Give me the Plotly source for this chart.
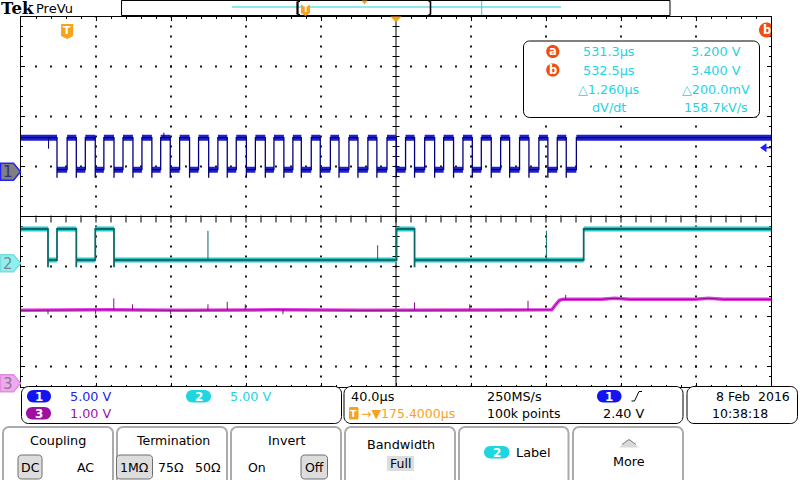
import numpy as np
import plotly.graph_objects as go

W, H = 800, 480
FONT = "DejaVu Sans"

# ------------------------------------------------------------------ data
time_per_div_us = 40.0
center_time_us = 175.4            # horizontal position (trigger -> centre)
ch1_v_per_div = 5.0
ch2_v_per_div = 5.0
ch3_v_per_div = 1.0
trigger_level_v = 2.40

# channel 1 (blue): square-wave edges, µs relative to trigger
ch1_fall_us = [-5.4, 4.9, 15.0, 25.0, 35.1, 45.2, 55.0, 65.3, 75.5, 85.4, 95.6, 105.7, 115.6, 124.9,
               135.0, 145.0, 155.1, 165.2, 175.6, 185.3, 196.0, 206.1, 216.1, 226.2, 236.0, 246.3,
               256.4, 266.2]
ch1_rise_us = [0.0, 9.7, 19.6, 29.8, 39.9, 49.9, 60.0, 70.1, 80.4, 90.2, 100.4, 110.3, 120.4, 130.2,
               140.4, 150.3, 160.4, 170.6, 180.5, 190.7, 200.8, 211.1, 220.9, 231.2, 241.3, 251.6,
               261.4, 271.6]
ch1_levels_v = [3.4, 0.2, -0.6]          # high, low, undershoot
ch1_spike_us = [-9.9, 51.6]
ch1_spike_v = [2.3, 3.9]

# channel 2 (cyan): toggling edges, starts high
ch2_edge_us = [-10.2, -5.4, 4.9, 15.0, 25.0, 175.7, 185.3, 275.5]
ch2_levels_v = [3.43, 0.33, -0.4]
ch2_spike_us = [75.1, 165.6, 255.6]
ch2_spike_v = [3.25, 1.8, 3.25]

# channel 3 (magenta): slow analogue level
ch3_t_us = [-24.6, 20.0, 60.0, 110.0, 160.0, 210.0, 258.5, 260.5, 262.5, 264.5, 285.0, 292.0,
            300.0, 335.0, 342.0, 350.0, 375.4]
ch3_v = [1.46, 1.47, 1.46, 1.47, 1.46, 1.47, 1.47, 1.57, 1.66, 1.68, 1.68, 1.70, 1.68, 1.68,
         1.70, 1.68, 1.68]
ch3_spike_us = [-10.2, 15.2, 24.9, 34.9, 55.2, 75.1, 85.4, 95.0, 115.1, 185.3, 214.7, 245.8, 265.9]
ch3_spike_v = [1.38, 1.38, 1.70, 1.58, 1.38, 1.58, 1.63, 1.58, 1.38, 1.62, 1.58, 1.65, 1.77]

meas_time = ["531.3µs", "532.5µs", "△1.260µs", "dV/dt"]
meas_val = ["3.200 V", "3.400 V", "△200.0mV", "158.7kV/s"]

# ------------------------------------------------------------------ screen geometry
GX0, GX1 = 21, 771
GY_TOP, GY_MID, GY_BOT = 16.5, 216.5, 386.5
VDIV = 50.0
ch1_gnd_px, ch2_gnd_px, ch3_gnd_px = 171.7, 263.3, 383.3

xmin = center_time_us - 5 * time_per_div_us
xmax = center_time_us + 5 * time_per_div_us

BLUE_BAND, BLUE_CORE = "#2020cc", "#00007e"
CYAN_BAND, CYAN_CORE = "#22c9c9", "#0a6a6a"
MAG_BAND, MAG_CORE = "#e23ce2", "#8a0a8a"
BLUE_TXT = "#2323f0"
CYAN = "#1fd3df"
PURPLE = "#a010a8"
ORANGE = "#f7a21b"
REDOR = "#f24b13"


def X(px):
    return px / W


def Y(py):
    return 1 - py / H


def vrange(gnd, vpd, top, bot):
    return [(gnd - bot) / VDIV * vpd, (gnd - top) / VDIV * vpd]


def fmt(pts):
    return " ".join(f"{X(a):.5f},{Y(b):.5f}" for a, b in pts)


def rr_path(x0, y0, x1, y1, r):
    k = 0.5523 * r
    seq = [("M", [(x0 + r, y0)]), ("L", [(x1 - r, y0)]),
           ("C", [(x1 - r + k, y0), (x1, y0 + r - k), (x1, y0 + r)]),
           ("L", [(x1, y1 - r)]),
           ("C", [(x1, y1 - r + k), (x1 - r + k, y1), (x1 - r, y1)]),
           ("L", [(x0 + r, y1)]),
           ("C", [(x0 + r - k, y1), (x0, y1 - r + k), (x0, y1 - r)]),
           ("L", [(x0, y0 + r)]),
           ("C", [(x0, y0 + r - k), (x0 + r - k, y0), (x0 + r, y0)])]
    return " ".join(c + fmt(p) for c, p in seq) + " Z"


def poly_path(pts, close=True):
    s = "M" + fmt([pts[0]]) + "".join(" L" + fmt([p]) for p in pts[1:])
    return s + (" Z" if close else "")


shapes = []
anns = []


def add_path(d, fill=None, line="black", lw=1.0, layer="above"):
    shapes.append(dict(type="path", xref="paper", yref="paper", path=d,
                       fillcolor=fill if fill else "rgba(0,0,0,0)",
                       line=dict(color=line if line else "rgba(0,0,0,0)", width=lw if line else 0),
                       layer=layer))


def add_line(x0, y0, x1, y1, color="black", lw=1.0, layer="above"):
    shapes.append(dict(type="line", xref="paper", yref="paper", x0=X(x0), y0=Y(y0), x1=X(x1), y1=Y(y1),
                       line=dict(color=color, width=lw), layer=layer))


def ann(x, y, text, size=12.5, color="black", xanchor="center", family=FONT):
    anns.append(dict(x=X(x), y=Y(y), xref="paper", yref="paper", text=text, showarrow=False,
                     xanchor=xanchor, yanchor="middle", font=dict(family=family, size=size, color=color)))


def pill(x0, y0, x1, y1, color, label):
    add_path(rr_path(x0, y0, x1, y1, (y1 - y0) / 2), fill=color, line=None)
    ann((x0 + x1) / 2, (y0 + y1) / 2 + 0.3, f"<b>{label}</b>", 12, "white")


def tshield(cx, y0, y1, half):
    pts = [(cx - half, y0), (cx + half, y0), (cx + half, y1 - 3), (cx, y1), (cx - half, y1 - 3)]
    add_path(poly_path(pts), fill=ORANGE, line=None)


def circle_clip(cx, cy, r, xmax_px, color, label):
    ang = np.linspace(0, 2 * np.pi, 40)
    pts = [(min(cx + r * np.cos(a), xmax_px), cy + r * np.sin(a)) for a in ang]
    add_path(poly_path(pts), fill=color, line=None)
    ann(min(cx, xmax_px - 4), cy, f"<b>{label}</b>", 11.5, "white")


# ------------------------------------------------------------------ waveform builders
def band(segs):
    bx, by = [], []
    for a, b, lev in segs:
        bx += [a, b, None]
        by += [lev, lev, None]
    return bx, by


hi, lo, us = ch1_levels_v
c1t, c1v, segs1 = [xmin], [hi], []
prev = xmin
for f, r in zip(ch1_fall_us, ch1_rise_us):
    c1t += [f, f, f, r, r]
    c1v += [hi, us, lo, lo, hi]
    segs1 += [(prev, f, hi), (f, r, lo)]
    prev = r
c1t.append(xmax)
c1v.append(hi)
segs1.append((prev, xmax, hi))

hi2, lo2, us2 = ch2_levels_v
c2t, c2v, segs2 = [xmin], [hi2], []
state_high = True
prev = xmin
for e in ch2_edge_us:
    if state_high:
        c2t += [e, e, e]
        c2v += [hi2, us2, lo2]
        segs2.append((prev, e, hi2))
    else:
        c2t += [e, e]
        c2v += [lo2, hi2]
        segs2.append((prev, e, lo2))
    state_high = not state_high
    prev = e
c2t.append(xmax)
c2v.append(hi2 if state_high else lo2)
segs2.append((prev, xmax, hi2 if state_high else lo2))


def spikes(ts, peaks, base_fn):
    sx, sy = [], []
    for t, p in zip(ts, peaks):
        sx += [t, t, None]
        sy += [base_fn(t), p, None]
    return sx, sy


def ch1_base(t):
    for f, r in zip(ch1_fall_us, ch1_rise_us):
        if f <= t < r:
            return lo
    return hi


def ch2_base(t):
    lev = hi2
    for e in ch2_edge_us:
        if t >= e:
            lev = lo2 if lev == hi2 else hi2
    return lev


def ch3_base(t):
    return float(np.interp(t, ch3_t_us, ch3_v))


fig = go.Figure()

# graticule dots (division axes x / y)
gx, gy = [], []
for k in [1, 2, 3, 4, 6, 7, 8, 9]:
    for j in range(38):
        gx.append(k)
        gy.append(-3.4 + 0.2 * j)
for j in [3, 2, 1, -1, -2, -3]:
    for i in range(1, 50):
        gx.append(0.2 * i)
        gy.append(j)
fig.add_trace(go.Scatter(x=gx, y=gy, mode="markers", xaxis="x", yaxis="y", hoverinfo="skip",
                         marker=dict(symbol="square", size=1.8, color="black", line=dict(width=0))))
# small ticks along the centre vertical line and the pane divider
tx = [5] * 37
ty = [-3.4 + 0.2 * j for j in range(1, 38)]
fig.add_trace(go.Scatter(x=tx, y=ty, mode="markers", xaxis="x", yaxis="y", hoverinfo="skip",
                         marker=dict(symbol="line-ew", size=5, line=dict(width=1, color="black"))))
fig.add_trace(go.Scatter(x=[0.2 * i for i in range(1, 50)], y=[-0.05] * 49, mode="markers",
                         xaxis="x", yaxis="y", hoverinfo="skip",
                         marker=dict(symbol="line-ns", size=5, line=dict(width=1, color="black"))))

# channel 1
bx, by = band(segs1)
fig.add_trace(go.Scatter(x=bx, y=by, mode="lines", xaxis="x2", yaxis="y2", hoverinfo="skip",
                         line=dict(color=BLUE_BAND, width=6)))
fig.add_trace(go.Scatter(x=c1t, y=c1v, mode="lines", xaxis="x2", yaxis="y2", hoverinfo="skip",
                         line=dict(color=BLUE_CORE, width=1.3)))
sx, sy = spikes(ch1_spike_us, ch1_spike_v, ch1_base)
fig.add_trace(go.Scatter(x=sx, y=sy, mode="lines", xaxis="x2", yaxis="y2", hoverinfo="skip",
                         line=dict(color=BLUE_CORE, width=1)))

# channel 2
bx, by = band(segs2)
fig.add_trace(go.Scatter(x=bx, y=by, mode="lines", xaxis="x2", yaxis="y3", hoverinfo="skip",
                         line=dict(color=CYAN_BAND, width=5)))
fig.add_trace(go.Scatter(x=c2t, y=c2v, mode="lines", xaxis="x2", yaxis="y3", hoverinfo="skip",
                         line=dict(color=CYAN_CORE, width=1.8)))
sx, sy = spikes(ch2_spike_us, ch2_spike_v, ch2_base)
fig.add_trace(go.Scatter(x=sx, y=sy, mode="lines", xaxis="x2", yaxis="y3", hoverinfo="skip",
                         line=dict(color=CYAN_CORE, width=1)))

# channel 3
fig.add_trace(go.Scatter(x=ch3_t_us, y=ch3_v, mode="lines", xaxis="x2", yaxis="y4", hoverinfo="skip",
                         line=dict(color=MAG_BAND, width=3.5)))
fig.add_trace(go.Scatter(x=ch3_t_us, y=ch3_v, mode="lines", xaxis="x2", yaxis="y4", hoverinfo="skip",
                         line=dict(color=MAG_CORE, width=1)))
sx, sy = spikes(ch3_spike_us, ch3_spike_v, ch3_base)
fig.add_trace(go.Scatter(x=sx, y=sy, mode="lines", xaxis="x2", yaxis="y4", hoverinfo="skip",
                         line=dict(color=MAG_CORE, width=1)))

# ------------------------------------------------------------------ graticule lines
shapes.append(dict(type="line", xref="x", yref="y", x0=5, x1=5, y0=-3.4, y1=4,
                   line=dict(color="black", width=1), layer="below"))

# ------------------------------------------------------------------ top bar
ann(-1, 8.5, "<b>Tek</b>", 16.5, "black", "left", "DejaVu Serif")
ann(34, 8, "PreVu", 13, "black", "left")
add_path(poly_path([(121.5, 0.5), (670, 0.5), (670, 15.5), (121.5, 15.5)]), fill="white", line="black", lw=1)
add_line(232, 7, 561, 7, CYAN, 1.2)
add_line(481.7, 1, 481.7, 15, CYAN, 1)
add_line(297.5, 1.5, 297.5, 14.5, "black", 2.2)
add_line(297.5, 1.5, 300, 1.5, "black", 1.2)
add_line(297.5, 14.5, 300, 14.5, "black", 1.2)
add_line(430.5, 1.5, 430.5, 14.5, "black", 1.6)
add_line(428.5, 14.5, 430.5, 14.5, "black", 1.2)
add_line(428.5, 1.5, 430.5, 1.5, "black", 1.2)
tshield(305.5, 5, 16, 4.5)
ann(305.5, 9.8, "<b>T</b>", 8, "white")
add_path(poly_path([(361.5, 0.5), (367.5, 0.5), (364.5, 4.5)]), fill=ORANGE, line=None)

# trigger position marker (centre) and trigger point marker
add_path(poly_path([(390.5, 16.5), (401.5, 16.5), (396, 22.5)]), fill=ORANGE, line=None)
trig_px = GX0 + (0 - xmin) / (xmax - xmin) * (GX1 - GX0)
tshield(trig_px, 24, 39, 6)
ann(trig_px, 30.5, "<b>T</b>", 11, "white")

# cursor b off-screen marker
circle_clip(766.5, 30, 7.5, GX1, REDOR, "b")

# measurement readout box
add_path(rr_path(523.5, 41, 759.5, 117.5, 6), fill="white", line="black", lw=1)
circ_pts = lambda cx, cy, r: [(cx + r * np.cos(a), cy + r * np.sin(a)) for a in np.linspace(0, 2 * np.pi, 36)]
add_path(poly_path(circ_pts(552.8, 51.5, 6.6)), fill=REDOR, line=None)
ann(552.8, 51.2, "<b>a</b>", 11.5, "white")
add_path(poly_path(circ_pts(552.8, 70.0, 6.6)), fill=REDOR, line=None)
ann(552.8, 69.7, "<b>b</b>", 11.5, "white")
rows_y = [51.5, 70, 89, 108]
for ry, tt, vv in zip(rows_y, meas_time, meas_val):
    ann(608.5, ry, tt, 12.8, CYAN)
    ann(716, ry, vv, 12.8, CYAN)

# trigger level arrow on right edge
ty_px = ch1_gnd_px - trigger_level_v / ch1_v_per_div * VDIV
add_path(poly_path([(760, ty_px), (766.5, ty_px - 4.5), (766.5, ty_px + 4.5)]), fill="#1e1eff", line=None)
add_line(765, ty_px, 771, ty_px, "#1e1eff", 1.5)

# channel ground markers on left edge
def gnd_marker(cy, fill, edge, label, tcolor):
    pts = [(0.5, cy - 8.5), (13.5, cy - 8.5), (20.5, cy), (13.5, cy + 8.5), (0.5, cy + 8.5)]
    add_path(poly_path(pts), fill=fill, line=edge, lw=1.5)
    ann(8, cy + 0.5, label, 15, tcolor)


gnd_marker(ch1_gnd_px, "#7f7f7f", "#2222ff", "1", "#30308a")
gnd_marker(ch2_gnd_px, "#8ff0f0", "#7adede", "2", "#7a8a8a")
gnd_marker(ch3_gnd_px, "#f0a8f0", "#e08ee0", "3", "#8a7a8a")

# ------------------------------------------------------------------ info boxes
add_path(rr_path(21.5, 386.5, 341.5, 423.5, 7), fill="white", line="black", lw=1)
add_path(rr_path(344, 386.5, 683, 423.5, 7), fill="white", line="black", lw=1)
add_path(rr_path(687, 386.5, 797.5, 423.5, 7), fill="white", line="black", lw=1)

pill(27, 390, 51, 402.5, "#1414f0", "1")
ann(68, 396.5, f"{ch1_v_per_div:.2f} V", 12.8, BLUE_TXT, "left")
pill(186, 390, 211, 402.5, "#1fd6e0", "2")
ann(228, 396.5, f"{ch2_v_per_div:.2f} V", 12.8, CYAN, "left")
pill(26, 407, 51, 419.5, "#a010a0", "3")
ann(68, 413.5, f"{ch3_v_per_div:.2f} V", 12.8, PURPLE, "left")

ann(348.5, 396.5, f"{time_per_div_us:.1f}µs", 12.8, "black", "left")
add_path(rr_path(349, 407, 358.5, 419.5, 1.5), fill=ORANGE, line=None)
ann(353.8, 413.3, "<b>T</b>", 9.5, "white")
ann(359, 413.5, f"→▼{center_time_us:.4f}µs", 12.5, ORANGE, "left")
ann(485, 396.5, "250MS/s", 12.8, "black", "left")
ann(485, 413.5, "100k points", 12.5, "black", "left")
pill(597, 390, 621.5, 402.5, "#1414f0", "1")
add_path(poly_path([(631.5, 401), (634.5, 401), (639, 391.5), (642, 391.5)], close=False), line="black", lw=1)
ann(623.5, 413.5, f"{trigger_level_v:.2f} V", 12.8, "black")

ann(792, 396.5, "8 Feb\u00a0 2016", 12.5, "black", "right")
ann(740, 413.5, "10:38:18", 12.5, "black")

# ------------------------------------------------------------------ soft-key buttons
BTN = "#ababab"
for x0, x1 in [(3, 113), (117, 227), (231, 341), (345, 455), (459, 568.5), (573, 683)]:
    add_path(rr_path(x0, 427, x1, 492, 6), fill="white", line=BTN, lw=2)


def subkey(x0, x1, label):
    add_path(rr_path(x0, 455, x1, 479, 3.5), fill="#dddddd", line="#6e6e6e", lw=1)
    ann((x0 + x1) / 2, 467.5, label, 12.5, "black")


ann(58, 440, "Coupling", 12.8)
subkey(18, 42, "DC")
ann(85, 467.5, "AC", 12.5)
ann(172.5, 440, "Termination", 12.5)
subkey(116.5, 152.5, "1MΩ")
ann(171, 467.5, "75Ω", 12.5)
ann(208, 467.5, "50Ω", 12.5)
ann(286.5, 440, "Invert", 12.8)
ann(257, 467.5, "On", 12.5)
subkey(301, 327.5, "Off")
ann(400.5, 444, "Bandwidth", 12.8)
add_path(poly_path([(387, 456), (414, 456), (414, 471), (387, 471)]), fill="#dddddd", line=None)
ann(400.5, 463.5, "Full", 12.5)
pill(484, 446, 509.5, 458.5, "#1fd6e0", "2")
ann(514, 452, "Label", 12.8, "black", "left")
add_path(poly_path([(619, 447.5), (629, 439.5), (639, 447.5)]), fill="#d9d9d9", line=None)
add_path(poly_path([(622, 444.5), (629, 439.5), (636, 444.5)], close=False), line="#7a7a7a", lw=1)
ann(628.5, 461, "More", 12.8)

# ------------------------------------------------------------------ layout
xdom = [X(GX0), X(GX1)]
common_hidden = dict(visible=False, showgrid=False, zeroline=False, fixedrange=True)
fig.update_layout(
    width=W, height=H, autosize=False,
    margin=dict(l=0, r=0, t=0, b=0, pad=0),
    paper_bgcolor="white", plot_bgcolor="rgba(0,0,0,0)",
    showlegend=False,
    xaxis=dict(domain=xdom, range=[0, 10], anchor="y", showgrid=False, zeroline=False,
               showline=True, linecolor="black", linewidth=1, mirror="allticks",
               ticks="inside", ticklen=4, tickwidth=1, tickcolor="black",
               tickvals=list(range(11)), showticklabels=False, fixedrange=True,
               minor=dict(ticks="inside", ticklen=2, tickwidth=1, tickcolor="black",
                          tickvals=[0.2 * i for i in range(51)])),
    yaxis=dict(domain=[Y(GY_BOT), Y(GY_TOP)], range=[-3.4, 4], anchor="x", showgrid=False,
               zeroline=True, zerolinecolor="black", zerolinewidth=1.2,
               showline=True, linecolor="black", linewidth=1, mirror="allticks",
               ticks="inside", ticklen=4, tickwidth=1, tickcolor="black",
               tickvals=[-3, -2, -1, 0, 1, 2, 3, 4], showticklabels=False, fixedrange=True,
               minor=dict(ticks="inside", ticklen=2, tickwidth=1, tickcolor="black",
                          tickvals=[-3.4 + 0.2 * i for i in range(38)])),
    xaxis2=dict(domain=xdom, range=[xmin, xmax], anchor="y2", **common_hidden),
    yaxis2=dict(domain=[Y(GY_MID), Y(GY_TOP)], anchor="x2",
                range=vrange(ch1_gnd_px, ch1_v_per_div, GY_TOP, GY_MID), **common_hidden),
    yaxis3=dict(domain=[Y(GY_BOT), Y(GY_MID)], anchor="x2",
                range=vrange(ch2_gnd_px, ch2_v_per_div, GY_MID, GY_BOT), **common_hidden),
    yaxis4=dict(overlaying="y3", anchor="x2",
                range=vrange(ch3_gnd_px, ch3_v_per_div, GY_MID, GY_BOT), **common_hidden),
    shapes=shapes,
    annotations=anns,
)

fig.write_html("out.html", config={"displayModeBar": False},
               post_script="document.body.style.margin='0';document.body.style.overflow='hidden';")
